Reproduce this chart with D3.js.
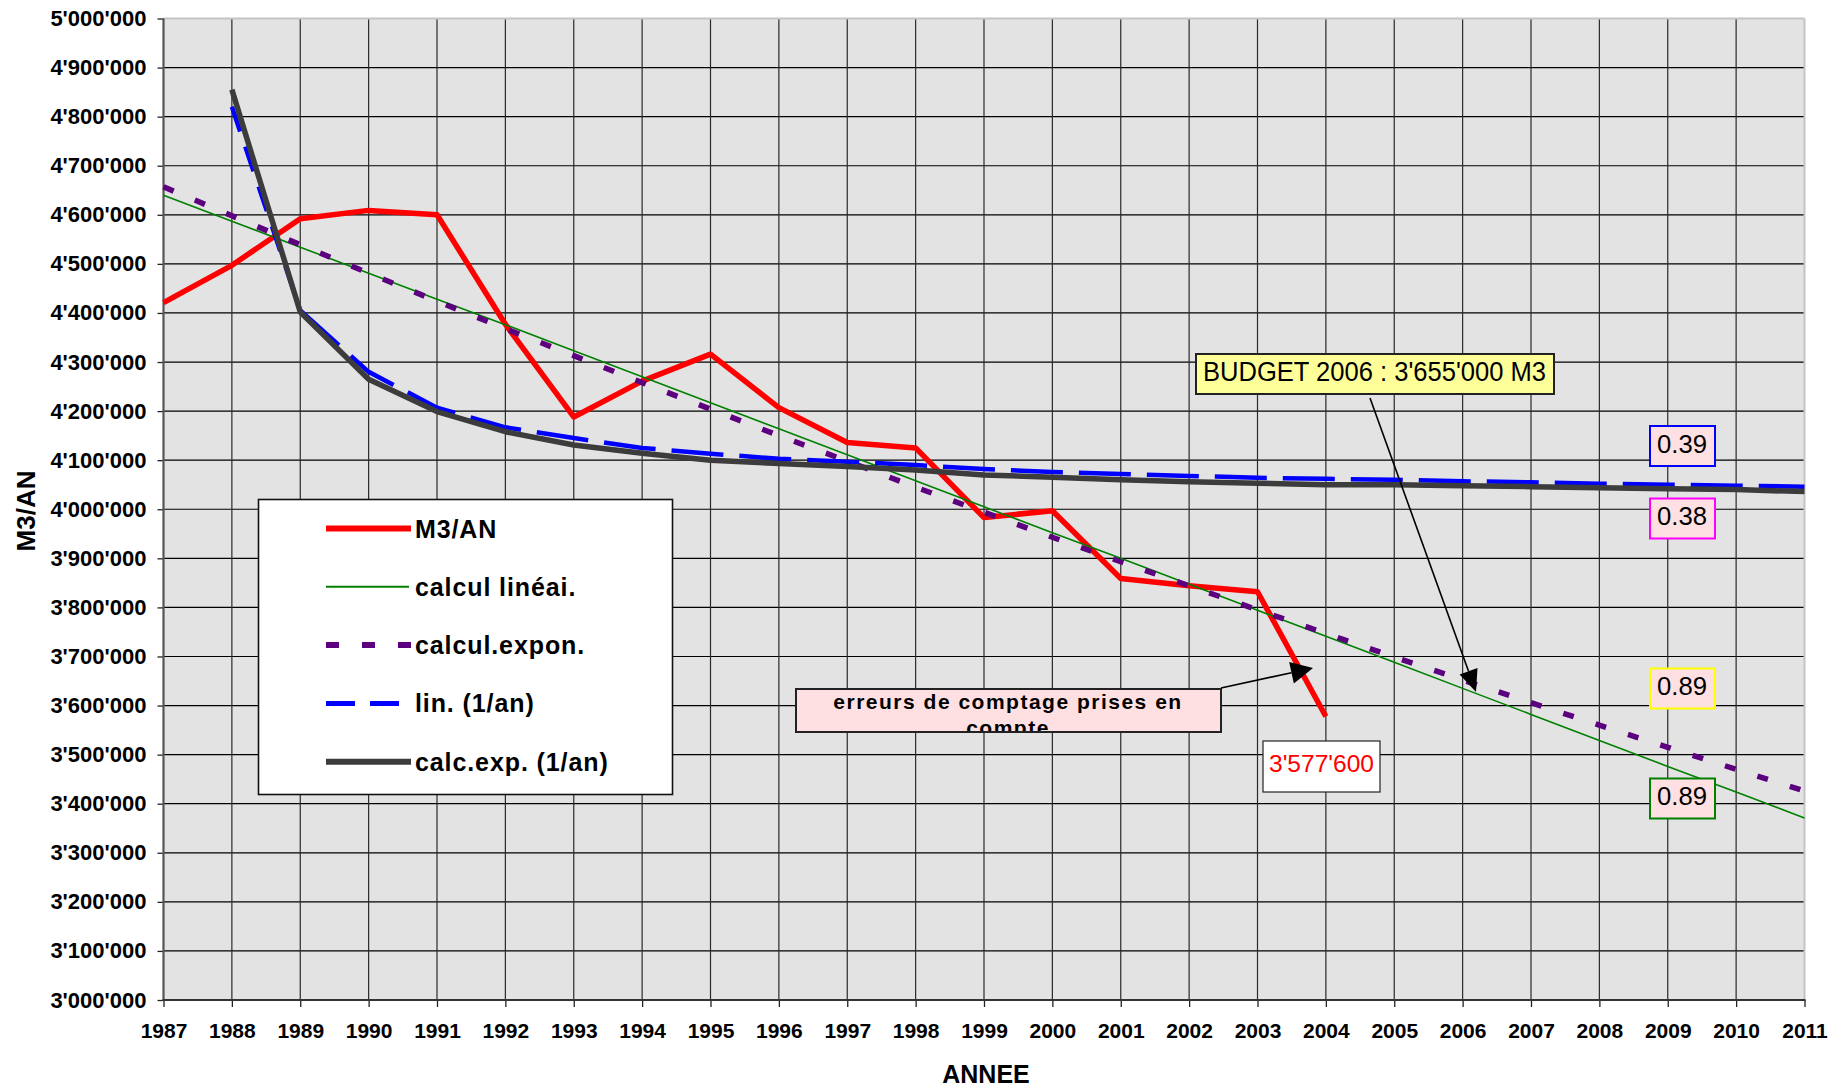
<!DOCTYPE html>
<html><head><meta charset="utf-8">
<script src="https://cdn.jsdelivr.net/npm/d3@7"></script>
<style>
body{margin:0;background:#fff}
text{font-family:"Liberation Sans",Arial,Helvetica,sans-serif}
</style>
</head><body>
<svg id="c" width="1845" height="1090"></svg>
<script>
// ---------- DATA ----------
const years = [1987,1988,1989,1990,1991,1992,1993,1994,1995,1996,1997,1998,1999,2000,2001,2002,2003,2004,2005,2006,2007,2008,2009,2010,2011];
const yTicks = [3000000,3100000,3200000,3300000,3400000,3500000,3600000,3700000,3800000,3900000,4000000,4100000,4200000,4300000,4400000,4500000,4600000,4700000,4800000,4900000,5000000];
// M3/AN (1987-2004)
const m3an = [4421000,4497000,4592000,4609000,4600000,4377000,4188000,4261000,4316000,4207000,4136000,4125000,3983000,3997000,3859000,3844000,3832000,3577600];
// calcul linéai. (1987-2011)
const calculLineai = [4640000,4587000,4534000,4481000,4428000,4376000,4323000,4270000,4217000,4164000,4111000,4058000,4005000,3952000,3900000,3847000,3794000,3741000,3688000,3635000,3582000,3529000,3476000,3424000,3371000];
// calcul.expon. (1987-2011)
const calculExpon = [4657000,4598000,4539000,4481000,4424000,4368000,4313000,4258000,4204000,4150000,4098000,4045000,3994000,3943000,3893000,3844000,3795000,3747000,3699000,3652000,3606000,3560000,3515000,3470000,3426000];
// lin. (1/an) (1988-2011)
const linInv = [4820000,4405000,4280000,4207000,4167000,4145000,4125000,4113000,4103000,4097000,4090000,4082000,4076000,4072000,4068000,4064000,4062000,4060000,4057000,4055000,4052000,4050000,4048000,4046000];
// calc.exp. (1/an) (1988-2011)
const calcExpInv = [4855000,4402000,4265000,4199000,4158000,4131000,4114000,4100000,4093000,4087000,4080000,4070000,4065000,4060000,4056000,4053000,4050000,4050000,4048000,4046000,4044000,4042000,4040000,4036000];
const seriesNames = ["M3/AN","calcul linéai.","calcul.expon.","lin. (1/an)","calc.exp. (1/an)"];
const r2Labels = ["0.39","0.38","0.89","0.89"];
const budgetText = "BUDGET 2006 : 3'655'000 M3";
const errText = ["erreurs de comptage prises en","compte"];
const lastValueText = "3'577'600";

// ---------- SETUP ----------
const svg = d3.select("#c");
const L=163.5, R=1804.5, T=18.5, B=1000;
const x = d3.scaleLinear().domain([1987,2011]).range([L,R]);
const y = d3.scaleLinear().domain([3000000,5000000]).range([B,T]);
const fmt = v => d3.format(",")(v).replace(/,/g,"'");

svg.append("rect").attr("width",1845).attr("height",1090).attr("fill","#fff");
svg.append("rect").attr("x",L).attr("y",T).attr("width",R-L).attr("height",B-T).attr("fill","#e3e3e3");

// grid
svg.append("g").selectAll("line").data(yTicks.filter(v=>v>3000000 && v<5000000)).join("line")
  .attr("x1",L).attr("x2",R).attr("y1",d=>y(d)).attr("y2",d=>y(d))
  .attr("stroke","#000").attr("stroke-width",1.2);
svg.append("g").selectAll("line").data(years.filter(v=>v>1987 && v<2011)).join("line")
  .attr("x1",d=>x(d)).attr("x2",d=>x(d)).attr("y1",T).attr("y2",B)
  .attr("stroke","#2a2a2a").attr("stroke-width",1.2);
// plot border (top/right light)
svg.append("line").attr("x1",L).attr("x2",R).attr("y1",T).attr("y2",T).attr("stroke","#c4c4c4").attr("stroke-width",2);
svg.append("line").attr("x1",R).attr("x2",R).attr("y1",T).attr("y2",B).attr("stroke","#c4c4c4").attr("stroke-width",2);

// axes
const ya = svg.append("g").attr("transform",`translate(${L},0)`)
  .call(d3.axisLeft(y).tickValues(yTicks).tickFormat(fmt).tickSize(6).tickPadding(11));
const xa = svg.append("g").attr("transform",`translate(0,${B})`)
  .call(d3.axisBottom(x).tickValues(years).tickFormat(d3.format("d")).tickSize(7).tickPadding(16));
[ya,xa].forEach(a=>{
  a.select(".domain").remove();
  a.selectAll(".tick line").attr("stroke","#222").attr("stroke-width",1.3);
  a.selectAll("text").attr("font-weight","bold").attr("fill","#000")
   .style("font-family","'Liberation Sans',Arial,sans-serif");
});
ya.selectAll("text").attr("font-size",22);
xa.selectAll("text").attr("font-size",21);
svg.append("line").attr("x1",L).attr("x2",L).attr("y1",T).attr("y2",B+1).attr("stroke","#555").attr("stroke-width",2.2);
svg.append("line").attr("x1",L-1).attr("x2",R+1).attr("y1",B).attr("y2",B).attr("stroke","#333").attr("stroke-width",2.2);

// axis titles
svg.append("text").attr("x",986).attr("y",1083).attr("text-anchor","middle")
  .attr("font-size",25).attr("font-weight","bold").text("ANNEE");
svg.append("text").attr("transform","translate(35,511) rotate(-90)").attr("text-anchor","middle")
  .attr("font-size",26).attr("font-weight","bold").text("M3/AN");

// ---------- SERIES ----------
const line = d3.line().x(d=>x(d.year)).y(d=>y(d.v));
const toPts = (arr, start) => arr.map((v,i)=>({year:years[start+i], v}));
const sM3 = toPts(m3an,0), sLin = toPts(calculLineai,0), sExp = toPts(calculExpon,0),
      sLinInv = toPts(linInv,1), sExpInv = toPts(calcExpInv,1);
const pl = svg.append("g").attr("fill","none");
pl.append("path").attr("d",line(sM3)).attr("stroke","#ff0000").attr("stroke-width",5.5).attr("stroke-linejoin","round");
pl.append("path").attr("d",line(sLin)).attr("stroke","#008000").attr("stroke-width",1.6);
pl.append("path").attr("d",line(sExp)).attr("stroke","#5c0080").attr("stroke-width",5.5).attr("stroke-dasharray","11,23");
pl.append("path").attr("d",line(sLinInv.slice(0,2))).attr("stroke","#0000ff").attr("stroke-width",4.5).attr("stroke-dasharray","26,16");
pl.append("path").attr("d",line(sLinInv.slice(1))).attr("stroke","#0000ff").attr("stroke-width",4.5).attr("stroke-dasharray","52,16");
pl.append("path").attr("d",line(sExpInv)).attr("stroke","#3c3c3c").attr("stroke-width",5.5).attr("stroke-linejoin","round");

// ---------- LEGEND ----------
const lg = svg.append("g");
lg.append("rect").attr("x",258.5).attr("y",499.5).attr("width",414).attr("height",295)
  .attr("fill","#fff").attr("stroke","#111").attr("stroke-width",1.6);
const legStyles = [
  {c:"#ff0000",w:6,d:null,x2:411},
  {c:"#008000",w:2,d:null,x2:409},
  {c:"#5c0080",w:6,d:"13,23",x2:411},
  {c:"#0000ff",w:5,d:"29,15",x2:399},
  {c:"#3c3c3c",w:6,d:null,x2:411}
];
seriesNames.forEach((n,i)=>{
  const yy = 528.5 + i*58.3;
  const s = legStyles[i];
  const l = lg.append("line").attr("x1",326).attr("x2",s.x2).attr("y1",yy).attr("y2",yy)
    .attr("stroke",s.c).attr("stroke-width",s.w);
  if(s.d) l.attr("stroke-dasharray",s.d);
  lg.append("text").attr("x",415).attr("y",yy+9).attr("font-size",25).attr("font-weight","bold")
    .attr("letter-spacing",0.9).text(n);
});

// ---------- ANNOTATIONS ----------
function arrow(x1,y1,x2,y2,len,hw){
  const dx=x2-x1, dy=y2-y1, d=Math.hypot(dx,dy), ux=dx/d, uy=dy/d;
  const bx=x2-ux*len, by=y2-uy*len;
  svg.append("line").attr("x1",x1).attr("y1",y1).attr("x2",bx).attr("y2",by).attr("stroke","#000").attr("stroke-width",1.6);
  svg.append("polygon").attr("points",`${x2},${y2} ${bx-uy*hw},${by+ux*hw} ${bx+uy*hw},${by-ux*hw}`).attr("fill","#000");
}
// budget
svg.append("rect").attr("x",1196).attr("y",354).attr("width",358).attr("height",40)
  .attr("fill","#ffff99").attr("stroke","#222").attr("stroke-width",2);
svg.append("text").attr("x",1203).attr("y",381).attr("font-size",27)
  .attr("textLength",343).attr("lengthAdjust","spacingAndGlyphs").text(budgetText);
arrow(1370,398,1476,692,22,9.5);

// errors box
svg.append("defs").append("clipPath").attr("id","errclip").append("rect")
  .attr("x",796).attr("y",689).attr("width",425).attr("height",42);
svg.append("rect").attr("x",796).attr("y",689).attr("width",425).attr("height",43)
  .attr("fill","#ffe0e2").attr("stroke","#222").attr("stroke-width",2);
const et = svg.append("g").attr("clip-path","url(#errclip)");
errText.forEach((t,i)=>{
  et.append("text").attr("x",1008).attr("y",709+i*26).attr("text-anchor","middle")
    .attr("font-size",21).attr("font-weight","bold").attr("letter-spacing",1.5).text(t);
});
arrow(1221,688,1313,668,22,11);

// last value label
svg.append("rect").attr("x",1263).attr("y",741).attr("width",117).attr("height",51)
  .attr("fill","#fff").attr("stroke","#222").attr("stroke-width",1.2);
svg.append("text").attr("x",1269).attr("y",772).attr("font-size",24).attr("fill","#ff0000")
  .attr("textLength",105).attr("lengthAdjust","spacingAndGlyphs").text(lastValueText);

// R² boxes
const r2Box = [
  {y:426,c:"#0000ff",b:452.5},
  {y:498.5,c:"#ff00ff",b:525},
  {y:668.5,c:"#ffff00",b:694.5},
  {y:778.5,c:"#008000",b:804.5}
];
r2Labels.forEach((t,i)=>{
  const b=r2Box[i];
  svg.append("rect").attr("x",1650).attr("y",b.y).attr("width",65).attr("height",40)
    .attr("fill","#ffe0e2").attr("stroke",b.c).attr("stroke-width",2);
  svg.append("text").attr("x",1657).attr("y",b.b).attr("font-size",26)
    .attr("textLength",50).attr("lengthAdjust","spacingAndGlyphs").text(t);
});
</script>
</body></html>
